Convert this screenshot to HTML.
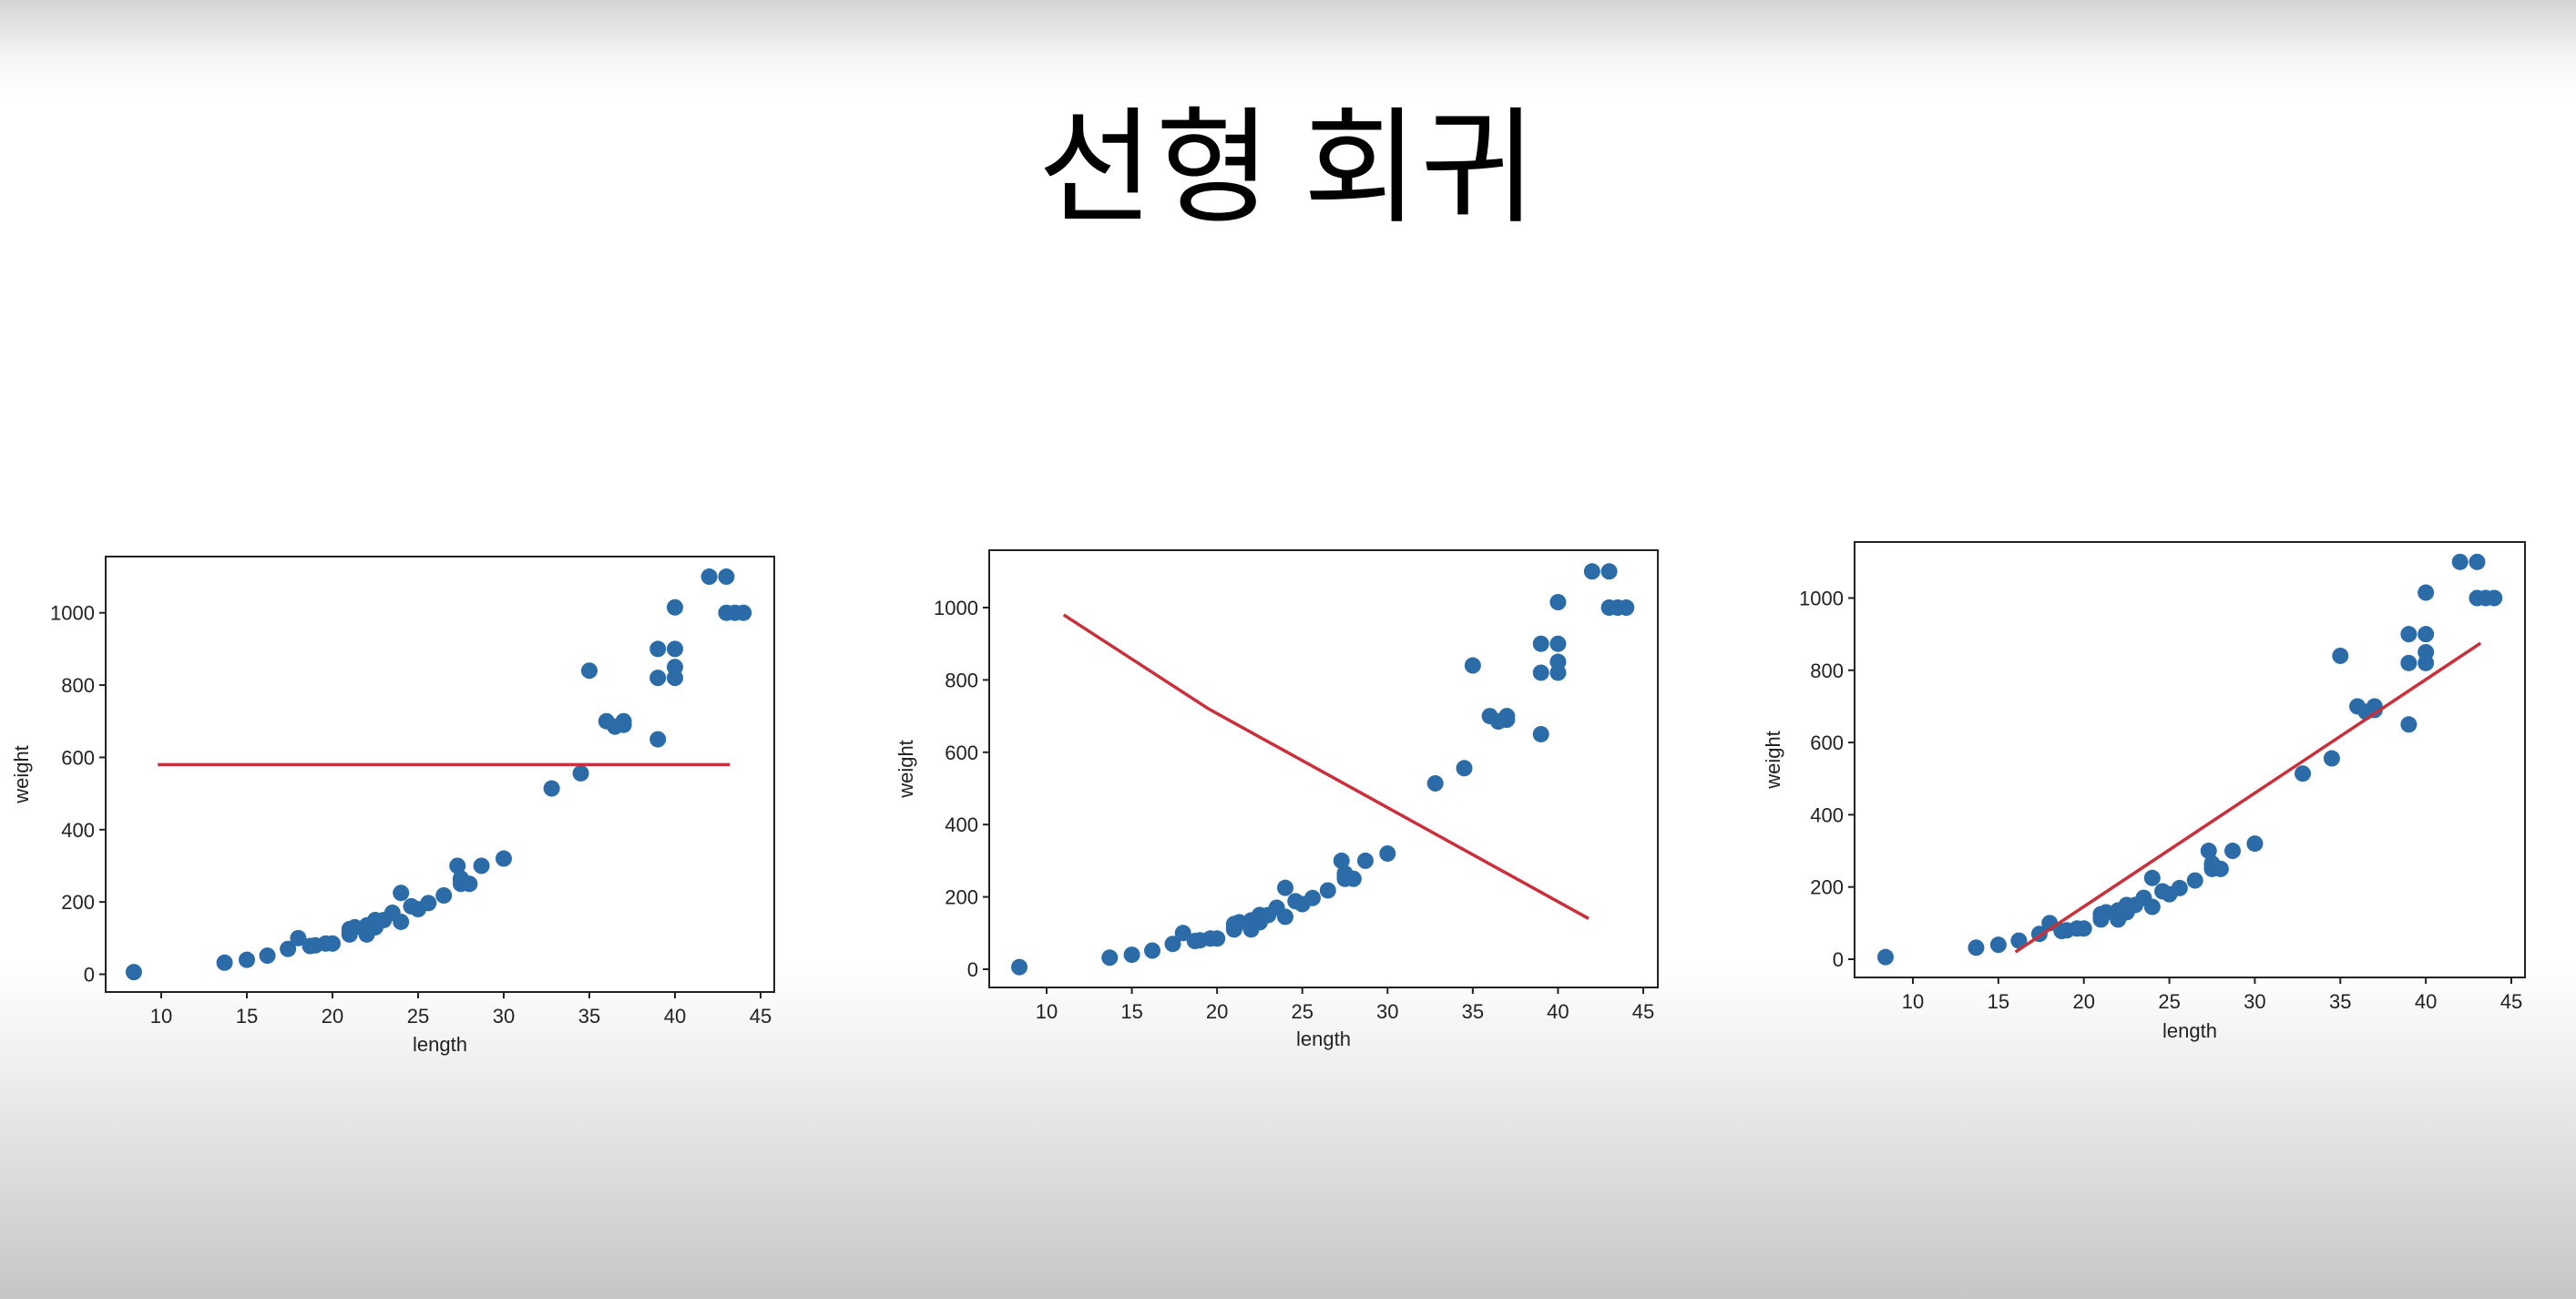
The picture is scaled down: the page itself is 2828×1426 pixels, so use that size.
<!DOCTYPE html>
<html><head><meta charset="utf-8">
<style>
html,body{margin:0;padding:0;}
body{width:2828px;height:1426px;overflow:hidden;position:relative;
background:linear-gradient(to bottom,#d4d4d4 0px,#f4f4f4 60px,#ffffff 110px,#ffffff 1060px,#eeeeee 1180px,#c6c6c6 1426px);
font-family:"Liberation Sans","Noto Sans CJK KR",sans-serif;}
#title{position:absolute;left:0;width:2828px;top:82px;text-align:center;font-family:"Noto Sans CJK KR","NanumGothic",sans-serif;font-size:138px;line-height:180px;color:#000;letter-spacing:2px;}
svg{position:absolute;left:0;top:0;}
</style></head><body>
<div id="title">선형 회귀</div>
<svg id="svg" width="2828" height="1426"></svg>
<script>
const lengths=[8.4,13.7,15.0,16.2,17.4,18.0,18.7,19.0,19.6,20.0,21.0,21.0,21.0,21.3,22.0,22.0,22.0,22.0,22.0,22.5,22.5,22.7,23.0,23.5,24.0,24.0,24.6,25.0,25.6,26.5,27.3,27.5,27.5,27.5,28.0,28.7,30.0,32.8,34.5,35.0,36.5,36.0,37.0,37.0,39.0,39.0,39.0,40.0,40.0,40.0,40.0,42.0,43.0,43.0,43.5,44.0];
const weights=[5.9,32.0,40.0,51.5,70.0,100.0,78.0,80.0,85.0,85.0,110.0,115.0,125.0,130.0,120.0,120.0,130.0,135.0,110.0,130.0,150.0,145.0,150.0,170.0,225.0,145.0,188.0,180.0,197.0,218.0,300.0,260.0,265.0,250.0,250.0,300.0,320.0,514.0,556.0,840.0,685.0,700.0,700.0,690.0,900.0,650.0,820.0,850.0,900.0,1015.0,820.0,1100.0,1000.0,1100.0,1000.0,1000.0];
const xTicks=[10,15,20,25,30,35,40,45];
const yTicks=[0,200,400,600,800,1000];
const line1X=[9.8,43.2]; const line1Y=[580,580];
const line2X=[11,19.5,41.8]; const line2Y=[980,720,140];
const line3X=[16,43.2]; const line3Y=[20,875];

const NS="http://www.w3.org/2000/svg";
const svg=document.getElementById('svg');
function mk(tag,attrs,parent){const e=document.createElementNS(NS,tag);for(const k in attrs)e.setAttribute(k,attrs[k]);(parent||svg).appendChild(e);return e;}

function chart(idx,box,px10,px45,py0,py1000,ylabX,xlabY,lx,ly){
  const sx=v=>px10+(v-10)*(px45-px10)/35;
  const sy=v=>py0+(v)*(py1000-py0)/1000;
  const g=mk('g',{});
  
  
  const bg=mk('rect',{x:box[0],y:box[1],width:box[2]-box[0],height:box[3]-box[1],fill:'#fff'},g);
  
  
  lengths.forEach((L,i)=>{
    const c=mk('circle',{cx:sx(L),cy:sy(weights[i]),r:9,fill:'#2b6ca8'},g);
    
    
  });
  const pts=lx.map((v,i)=>sx(v)+','+sy(ly[i])).join(' ');
  const pl=mk('polyline',{points:pts,fill:'none',stroke:'#c9303b','stroke-width':3.5},g);
  
  
  const fr=mk('rect',{x:box[0],y:box[1],width:box[2]-box[0],height:box[3]-box[1],fill:'none',stroke:'#222','stroke-width':2},g);
  
  
  xTicks.forEach(t=>{
    const x=sx(t);
    mk('line',{x1:x,x2:x,y1:box[3],y2:box[3]+7,stroke:'#222','stroke-width':2},g);
    const tx=mk('text',{x:x,y:box[3]+34,'text-anchor':'middle','font-size':22,fill:'#222'},g);
    tx.textContent=t;
    
    
  });
  yTicks.forEach(t=>{
    const y=sy(t);
    mk('line',{x1:box[0]-7,x2:box[0],y1:y,y2:y,stroke:'#222','stroke-width':2},g);
    const tx=mk('text',{x:box[0]-12,y:y+8,'text-anchor':'end','font-size':22,fill:'#222'},g);
    tx.textContent=t;
    
    
  });
  const xl=mk('text',{x:(box[0]+box[2])/2,y:xlabY,'text-anchor':'middle','font-size':22,fill:'#222'},g);
  xl.textContent='length';
  
  
  const yc=(box[1]+box[3])/2;
  const yl=mk('text',{x:ylabX,y:yc,'text-anchor':'middle','font-size':22,fill:'#222',transform:'rotate(-90 '+ylabX+' '+yc+')'},g);
  yl.textContent='weight';
  
  
}
chart(1,[116,611,850,1089],177,835,1069.5,672.7,31,1154,line1X,line1Y);
chart(2,[1086,604,1820,1084],1149,1804,1064,667,1002,1148,line2X,line2Y);
chart(3,[2036,595,2772,1073],2100,2757,1053,656.5,1954,1139,line3X,line3Y);
</script>
</body></html>
